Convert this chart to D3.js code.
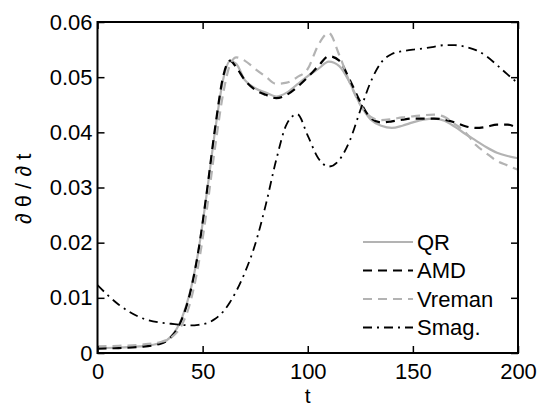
<!DOCTYPE html>
<html><head><meta charset="utf-8">
<script src="https://cdn.jsdelivr.net/npm/d3@7/dist/d3.min.js"></script>
<style>body{margin:0;background:#fff}svg{display:block}text{font-family:"Liberation Sans",Arial,Helvetica,sans-serif}</style>
</head><body><svg id="c" width="539" height="407"></svg>
<script>
const tGrid = [0,10,20,30,35,40,44,48,52,56,60,63,66,70,75,80,85,90,95,100,105,110,115,120,125,130,135,140,145,150,155,160,165,170,175,180,185,190,195,200];
const qrVals = [0.0009,0.0010,0.0012,0.0018,0.0030,0.0062,0.0110,0.0185,0.0290,0.0405,0.0500,0.0529,0.0524,0.0495,0.0480,0.0472,0.0465,0.0472,0.0487,0.0502,0.0515,0.0528,0.0520,0.0490,0.0450,0.0423,0.0412,0.0408,0.0412,0.0418,0.0423,0.0425,0.0421,0.0410,0.0397,0.0385,0.0373,0.0363,0.0357,0.0353];
const amdVals = [0.0008,0.0009,0.0011,0.0017,0.0029,0.0060,0.0108,0.0185,0.0292,0.0410,0.0505,0.0530,0.0518,0.0495,0.0477,0.0468,0.0462,0.0468,0.0482,0.0500,0.0520,0.0538,0.0530,0.0495,0.0455,0.0426,0.0418,0.0420,0.0423,0.0425,0.0425,0.0425,0.0423,0.0418,0.0411,0.0408,0.0410,0.0414,0.0414,0.0407];
const vremanVals = [0.0012,0.0013,0.0015,0.0020,0.0028,0.0050,0.0090,0.0160,0.0260,0.0375,0.0475,0.0522,0.0536,0.0530,0.0515,0.0501,0.0488,0.0490,0.0500,0.0515,0.0558,0.0580,0.0540,0.0490,0.0450,0.0428,0.0422,0.0424,0.0427,0.0429,0.0431,0.0432,0.0428,0.0415,0.0400,0.0377,0.0362,0.0348,0.0340,0.0332];
const smagVals = [0.0123,0.0088,0.0065,0.0055,0.0053,0.0051,0.0050,0.0051,0.0054,0.0062,0.0076,0.0092,0.0112,0.0145,0.0197,0.0268,0.0350,0.0415,0.0433,0.0394,0.0353,0.0338,0.0350,0.0385,0.0440,0.0492,0.0527,0.0542,0.0547,0.0550,0.0552,0.0555,0.0558,0.0558,0.0555,0.0549,0.0538,0.0522,0.0505,0.0489];
const xTicks = [0,50,100,150,200];
const yTicks = [0,0.01,0.02,0.03,0.04,0.05,0.06];
const yTickLabels = ["0","0.01","0.02","0.03","0.04","0.05","0.06"];
const seriesNames = ["QR","AMD","Vreman","Smag."];

const svg = d3.select("#c");
const L=97.5, R=518, T=22, B=353;
const FS = 22;
const x = d3.scaleLinear().domain([0,200]).range([L,R]);
const y = d3.scaleLinear().domain([0,0.06]).range([B,T]);

const styles = [
  {stroke:"#b3b3b3", dash:null, w:2.2},
  {stroke:"#000", dash:"9,6", w:2.2},
  {stroke:"#b3b3b3", dash:"9,6", w:2.2},
  {stroke:"#000", dash:"9,5,2,5", w:1.8}
];
const allVals = [qrVals, amdVals, vremanVals, smagVals];
const line = d3.line().x(d=>x(d[0])).y(d=>y(d[1])).curve(d3.curveMonotoneX);
const plot = svg.append("g");
allVals.forEach((vals,i)=>{
  plot.append("path").datum(tGrid.map((t,j)=>[t,vals[j]]))
    .attr("d",line).attr("fill","none")
    .attr("stroke",styles[i].stroke).attr("stroke-width",styles[i].w)
    .attr("stroke-dasharray",styles[i].dash);
});

// axes
const tl=7;
const gb = svg.append("g").attr("transform",`translate(0,${B})`)
  .call(d3.axisBottom(x).tickValues(xTicks).tickSize(-tl).tickPadding(10).tickFormat(d3.format("d")));
const gt = svg.append("g").attr("transform",`translate(0,${T})`)
  .call(d3.axisTop(x).tickValues(xTicks).tickSize(-tl).tickFormat(""));
const gl = svg.append("g").attr("transform",`translate(${L},0)`)
  .call(d3.axisLeft(y).tickValues(yTicks).tickSize(-tl).tickPadding(5).tickFormat((d,i)=>yTickLabels[i]));
const gr = svg.append("g").attr("transform",`translate(${R},0)`)
  .call(d3.axisRight(y).tickValues(yTicks).tickSize(-tl).tickFormat(""));
[gb,gt,gl,gr].forEach(g=>{
  g.select(".domain").remove();
  g.selectAll(".tick line").attr("stroke","#000").attr("stroke-width",1.5);
  g.selectAll("text").attr("font-size",FS).attr("fill","#000");
});
gb.selectAll("text").attr("dy","0.71em");
svg.append("rect").attr("x",L).attr("y",T).attr("width",R-L).attr("height",B-T)
  .attr("fill","none").attr("stroke","#000").attr("stroke-width",2);

// labels
svg.append("text").attr("x",x(100)).attr("y",402.5).attr("text-anchor","middle")
  .attr("font-size",21).text("t");
svg.append("text").attr("transform","translate(31,189) rotate(-90)").attr("text-anchor","middle")
  .attr("font-size",FS).text("∂ θ / ∂ t");

// legend
const lg = svg.append("g");
seriesNames.forEach((n,i)=>{
  const yy = 242 + i*28.5;
  lg.append("line").attr("x1",363).attr("x2",413).attr("y1",yy).attr("y2",yy)
    .attr("stroke",styles[i].stroke).attr("stroke-width",styles[i].w)
    .attr("stroke-dasharray",styles[i].dash);
  lg.append("text").attr("x",417).attr("y",yy).attr("dy","0.36em").attr("font-size",FS).text(n);
});
</script></body></html>
